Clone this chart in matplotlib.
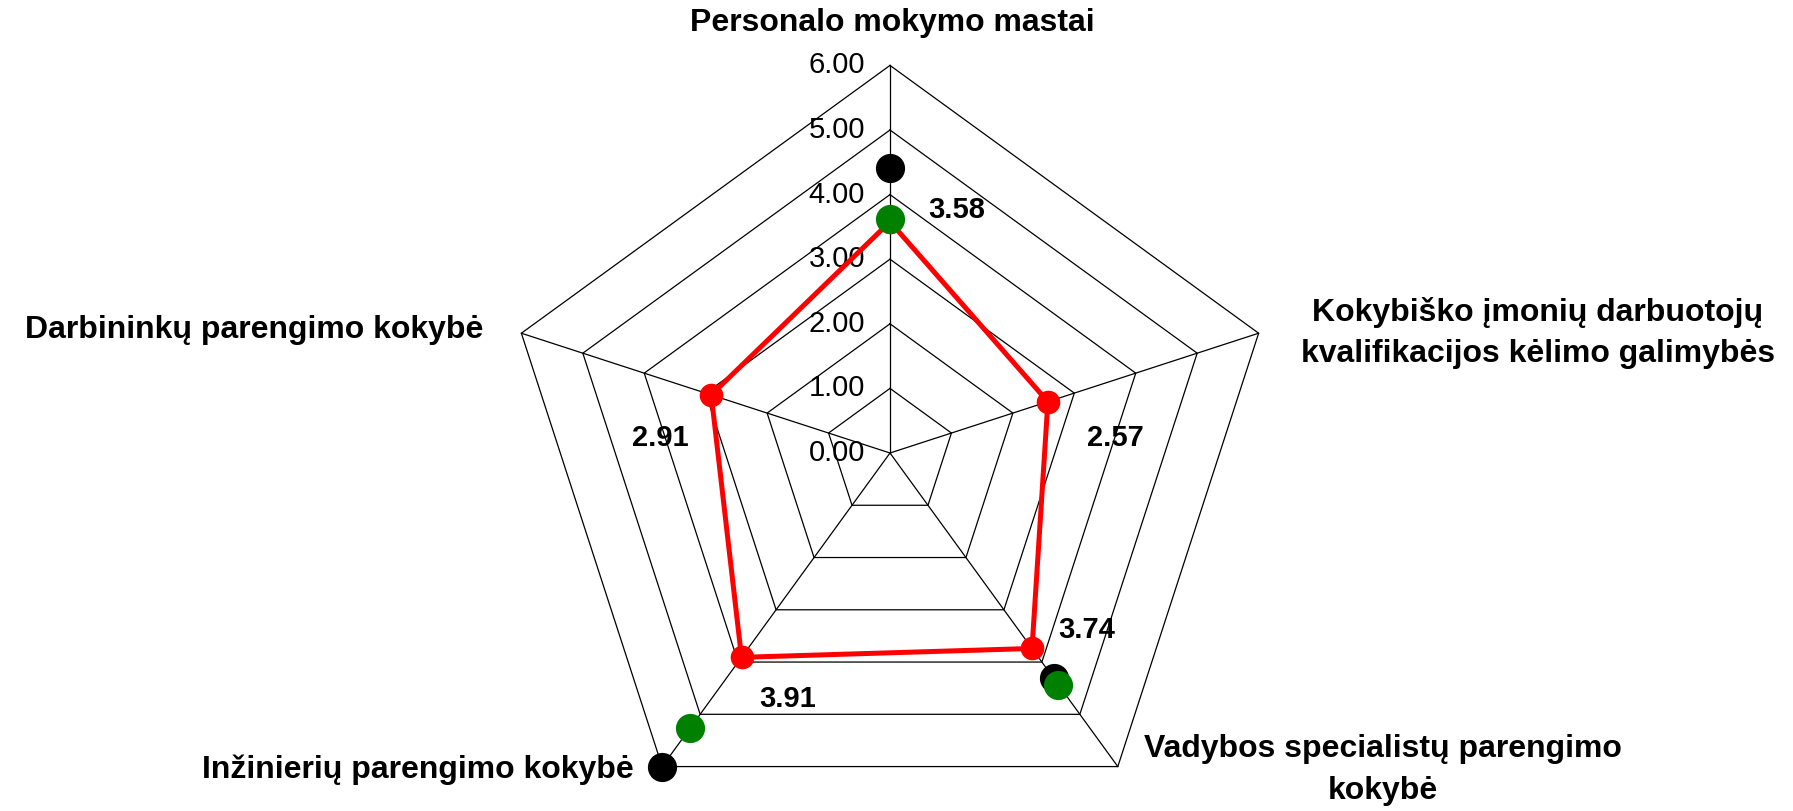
import numpy as np
import matplotlib.pyplot as plt

plt.rcParams['font.family'] = ['Liberation Sans', 'DejaVu Sans']

categories = ["Personalo mokymo mastai",
              "Kokybiško įmonių darbuotojų\nkvalifikacijos kėlimo galimybės",
              "Vadybos specialistų parengimo\nkokybė",
              "Inžinierių parengimo kokybė",
              "Darbininkų parengimo kokybė"]
red_vals = [3.58, 2.57, 3.74, 3.91, 2.91]
black_vals = [4.41, np.nan, 4.31, 6.00, np.nan]
green_vals = [3.62, np.nan, 4.43, 5.26, np.nan]
ticks = [0, 1, 2, 3, 4, 5, 6]

# geometry: centre of the web in pixels, pixels per unit
W, H = 1793, 811
cx, cy, unit = 890, 453, 64.6

n = len(categories)
ang = np.deg2rad(90 - 72 * np.arange(n))


def xy(vals):
    v = np.asarray(vals, dtype=float)
    return v * np.cos(ang), v * np.sin(ang)


fig = plt.figure(figsize=(W / 100, H / 100), dpi=100)
ax = fig.add_axes([0, 0, 1, 1])
ax.set_xlim(-cx / unit, (W - cx) / unit)
ax.set_ylim(-(H - cy) / unit, cy / unit)
ax.axis('off')

# web
for t in ticks[1:]:
    x, y = xy([t] * n)
    ax.plot(np.append(x, x[0]), np.append(y, y[0]), color='black', lw=0.9, zorder=1)
for a in ang:
    ax.plot([0, 6 * np.cos(a)], [0, 6 * np.sin(a)], color='black', lw=0.9, zorder=1)
for t in ticks:
    ax.text((865 - cx) / unit, t, f"{t:.2f}", ha='right', va='center', fontsize=21)

# series
x, y = xy(red_vals)
ax.plot(np.append(x, x[0]), np.append(y, y[0]), color='#ff0000', lw=3.6, zorder=3)
ax.plot(x, y, 'o', color='#ff0000', ms=16, zorder=4)
x, y = xy(black_vals)
ax.plot(x, y, 'o', color='black', ms=20, zorder=5)
x, y = xy(green_vals)
ax.plot(x, y, 'o', color='#008000', ms=20, zorder=6)

# value labels
offs = [(67, 12), (67, -36), (55, 18), (46, -42), (-51, -43)]
x, y = xy(red_vals)
for xi, yi, v, o in zip(x, y, red_vals, offs):
    ax.annotate(f"{v:.2f}", (xi, yi), xytext=o, textcoords='offset pixels',
                ha='center', va='center', fontsize=21, fontweight='bold')

# category labels
lab_pos = [(892, 23), (1538, 333), (1383, 770), (418, 770), (254, 330)]
for lab, (px, py) in zip(categories, lab_pos):
    ax.text((px - cx) / unit, (cy - py) / unit, lab, ha='center', va='center',
            fontsize=23, fontweight='bold', linespacing=1.5)

fig.savefig('out.png', dpi=100)
